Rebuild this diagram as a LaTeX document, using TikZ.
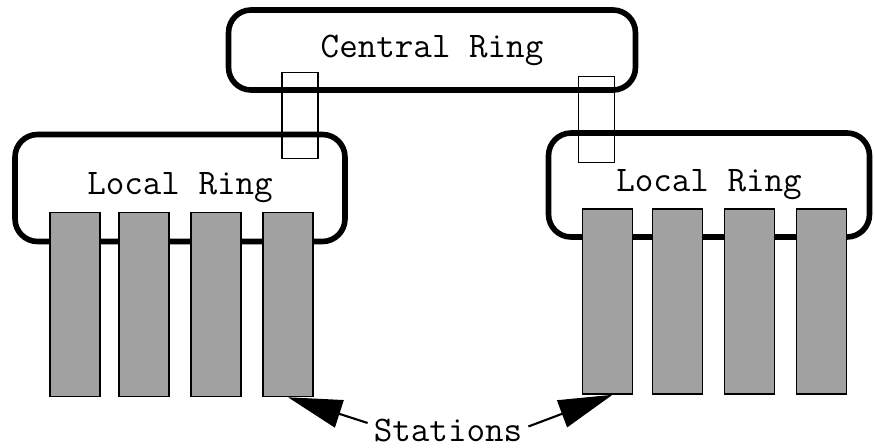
\documentclass[tikz,border=0pt]{standalone}
\usetikzlibrary{arrows.meta}

\begin{document}
\begin{tikzpicture} [
                    x=0.02cm, y=-0.02cm,
                    label text/.style={font=\ttfamily\fontsize{20.5}{23}\selectfont},
                    ring/.style={draw, line width=3.2pt, rounded corners=0.45cm, label text},
                    link/.style={draw, line width=0.7pt, minimum width=0.72cm, minimum height=1.72cm},
                    station/.style={draw, fill=black!37, line width=0.9pt, minimum width=1cm, minimum height=3.68cm},
                    pointer/.style={line width=1.2pt, -{Triangle[length=1.08cm, width=0.57cm]}}
                ]
                \useasboundingbox (0,0) rectangle (874,447);
                % the three rings
                \node [ring, minimum width=8.14cm, minimum height=1.6cm] (central) at (432,50) {Central Ring};
                \node [ring, minimum width=6.6cm, minimum height=2.14cm] (localA) at (180,188) {Local Ring};
                \node [ring, minimum width=6.42cm, minimum height=2.08cm] (localB) at (709,185) {Local Ring};
                % bridges between central and local rings
                \node [link] (bridgeA) at (300,115.5) {};
                \node [link] (bridgeB) at (596.5,119.5) {};
                % stations hanging off each local ring
                \foreach \i/\x in {1/75, 2/144, 3/216, 4/288}
                    \node [station] (ls\i) at (\x,304.5) {};
                \foreach \i/\x in {1/607.5, 2/677.5, 3/749.5, 4/821.5}
                    \node [station, minimum height=3.7cm] (rs\i) at (\x,301.5) {};
                \node [label text] (st) at (448,430) {Stations};
                \draw [pointer] ([yshift=4pt]st.west) -- (ls4.south);
                \draw [pointer] ([yshift=2pt]st.east) -- ([xshift=0.1cm]rs1.south);
                \end{tikzpicture}
\end{document}
